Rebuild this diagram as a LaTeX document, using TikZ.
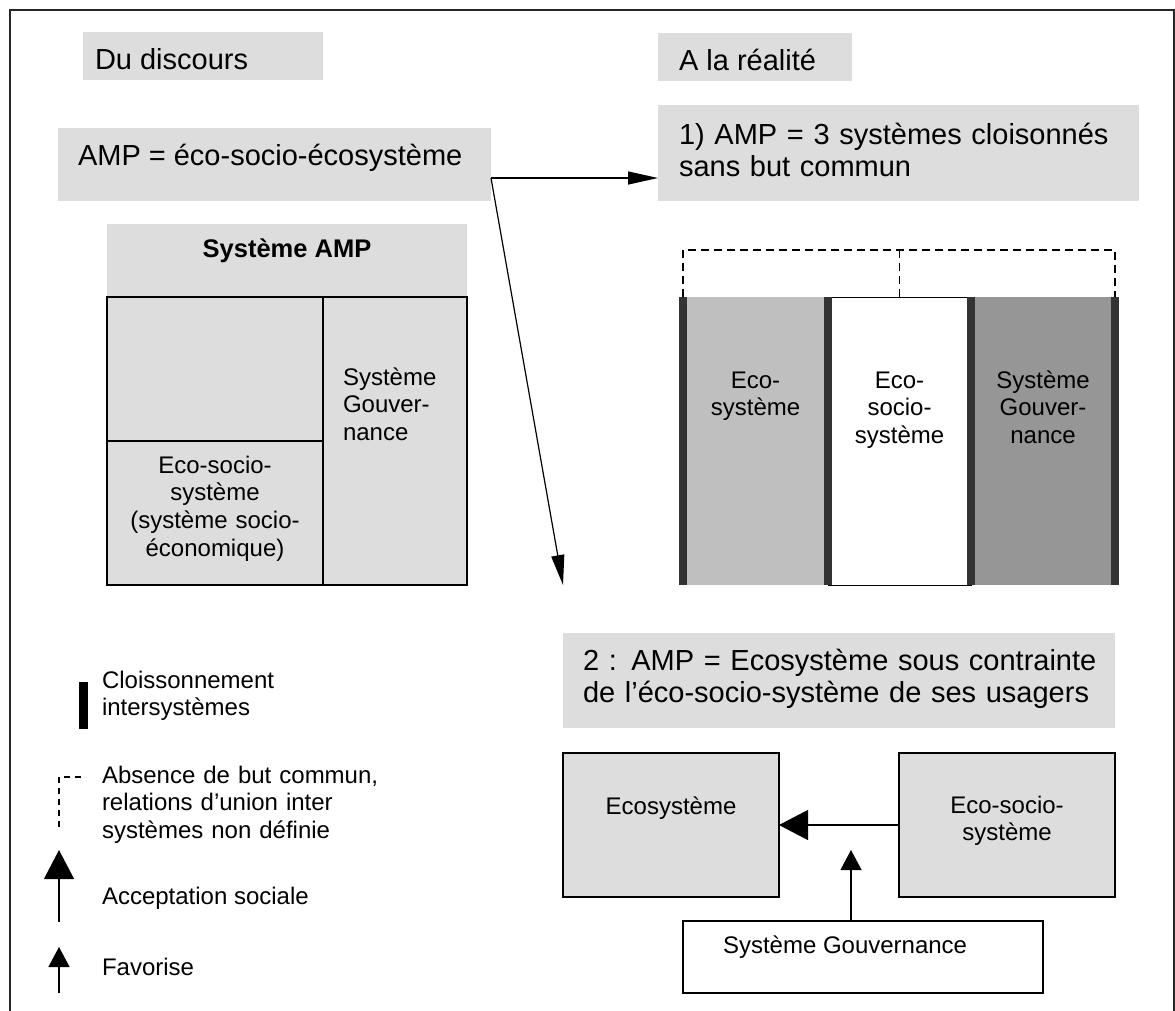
\documentclass[tikz,border=0pt]{standalone}
\usepackage{fontspec}
\setmainfont{Liberation Sans}
\usetikzlibrary{arrows.meta}

\definecolor{boxgrey}{HTML}{DDDDDD}
\definecolor{lightcol}{HTML}{BFBFBF}
\definecolor{darkcol}{HTML}{969696}
\definecolor{barcol}{HTML}{333333}

\newcommand{\bigtext}{\fontsize{29}{32}\selectfont}
\newcommand{\smalltext}{\fontsize{24}{27.7}\selectfont}

\begin{document}
\begin{tikzpicture}[x=1pt,y=-1pt,
  box/.style={anchor=north west, inner sep=0pt, outer sep=0pt},
  greybox/.style={box, fill=boxgrey, draw=none},
  framedbox/.style={box, fill=boxgrey, draw=black, line width=1.5pt},
  whitebox/.style={box, fill=white, draw=black, line width=1.5pt},
  label/.style={inner sep=0pt, outer sep=0pt, anchor=base west, align=left},
  clabel/.style={inner sep=0pt, outer sep=0pt, anchor=base, align=center},
  conn/.style={draw=black, line width=1.2pt},
  bigtip/.style={-{Triangle[length=29pt,width=30pt]}},
  smalltip/.style={-{Triangle[length=20pt,width=21pt]}},
  thintip/.style={-{Triangle[length=30pt,width=13pt]}},
  partition/.style={draw=barcol, line width=8pt},
  openlink/.style={draw=black, line width=1.2pt, dash pattern=on 8pt off 5pt}
]
\useasboundingbox (0,0) rectangle (1175,1010);

% outer frame
\draw[line width=1.5pt, draw=black!85] (10,1012) -- (10,10) -- (1174,10) -- (1174,1012);

% ---------- left half: the discourse ----------
\node[greybox, minimum width=240pt, minimum height=48pt] (discours) at (83,32) {};
\node[label, font=\bigtext] at (95,69) {Du discours};

\node[greybox, minimum width=433pt, minimum height=73pt] (amp) at (58,128) {};
\node[label, font=\bigtext] at (78,165) {AMP = éco-socio-écosystème};

\node[greybox, minimum width=360pt, minimum height=73pt] (ampsys) at (107,224) {};
\node[clabel, font=\fontsize{25.5}{28}\selectfont\bfseries] at (ampsys.center |- 0,257) {Système AMP};

\node[framedbox, minimum width=216pt, minimum height=144pt] (ecotop) at (107,297) {};
\node[framedbox, minimum width=216pt, minimum height=144pt] (ecosoc) at (107,441) {};
\node[framedbox, minimum width=144pt, minimum height=288pt] (govleft) at (323,297) {};
\node[clabel, font=\smalltext, text width=216pt] at (ecosoc.center |- 0,473)
  {Eco-socio-\\système\\(système socio-\\économique)};
\node[label, font=\smalltext, text width=120pt] at (343,385) {Système\\Gouver-\\nance};

% ---------- right half: the reality ----------
\node[greybox, minimum width=194pt, minimum height=48pt] (realite) at (658,33) {};
\node[label, font=\bigtext] at (679,70) {A la réalité};

\node[greybox, minimum width=481pt, minimum height=96pt] (cas1) at (658,105) {};
\node[label, font=\bigtext, text width=470pt] at (679,144)
  {1) AMP = 3 systèmes cloisonnés\\sans but commun};

% three partitioned systems
\node[box, fill=lightcol, minimum width=145pt, minimum height=288pt] (colA) at (683,297) {};
\node[box, fill=white, draw=black, line width=1pt, minimum width=143pt, minimum height=288pt] (colB) at (828,297) {};
\node[box, fill=darkcol, minimum width=144pt, minimum height=288pt] (colC) at (971,297) {};
\draw[partition] (colA.north west) -- (colA.south west);
\draw[partition] (colB.north west) -- (colB.south west);
\draw[partition] (colC.north west) -- (colC.south west);
\draw[partition] (colC.north east) -- (colC.south east);
\draw[openlink] (colA.north west) -- ++(0,-47) -| (colC.north east);
\draw[openlink] (colB.north) -- ++(0,-47);
\node[clabel, font=\smalltext, text width=140pt] at (colA.center |- 0,388) {Eco-\\système};
\node[clabel, font=\smalltext, text width=140pt] at (colB.center |- 0,388) {Eco-\\socio-\\système};
\node[clabel, font=\smalltext, text width=140pt] at (colC.center |- 0,388) {Système\\Gouver-\\nance};

% second reading
\node[greybox, minimum width=552pt, minimum height=95pt] (cas2) at (563,633) {};
\node[label, font=\bigtext, text width=540pt] at (583,670)
  {2 : AMP = Ecosystème sous contrainte\\de l’éco-socio-système de ses usagers};

\node[framedbox, minimum width=216pt, minimum height=144pt] (eco) at (563,753) {};
\node[clabel, font=\smalltext] at (eco.center |- 0,814) {Ecosystème};
\node[framedbox, minimum width=216pt, minimum height=144pt] (ecosoc2) at (899,753) {};
\node[clabel, font=\smalltext, text width=200pt] at (ecosoc2.center |- 0,813) {Eco-socio-\\système};
\node[whitebox, minimum width=360pt, minimum height=72pt] (gouv) at (683,921) {};
\node[label, font=\smalltext] at (723,953) {Système Gouvernance};

\draw[conn, bigtip] (ecosoc2.west) -- (eco.east);
\coordinate (favtip) at (851,850);
\draw[conn, smalltip] (gouv.north -| favtip) -- (favtip);

% arrows from the discourse to the two readings
\coordinate (ampout) at (amp.east |- 0,178);
\coordinate (downtip) at (563,585);
\draw[conn, thintip] (ampout) -- (ampout -| cas1.west);
\draw[conn, thintip] (ampout) -- (downtip);

% ---------- legend ----------
\coordinate (bar1) at (83.5,682);
\coordinate (bar2) at (83.5,729);
\draw[draw=black, line width=9pt] (bar1) -- (bar2);
\node[label, font=\smalltext, text width=300pt] at (102,688) {Cloissonnement\\intersystèmes};

\coordinate (dash1) at (59,827);
\coordinate (dash2) at (59,777);
\coordinate (dash3) at (81,777);
\draw[draw=black, line width=1.2pt, dash pattern=on 6pt off 5pt] (dash1) -- (dash2) -- (dash3);
\node[label, font=\smalltext, text width=320pt] at (102,783)
  {Absence de but commun,\\relations d’union inter\\systèmes non définie};

\coordinate (acc1) at (59,922);
\coordinate (acc2) at (59,850);
\draw[conn, bigtip] (acc1) -- (acc2);
\node[label, font=\smalltext] at (102,904) {Acceptation sociale};

\coordinate (fav1) at (59,993);
\coordinate (fav2) at (59,947);
\draw[conn, smalltip] (fav1) -- (fav2);
\node[label, font=\smalltext] at (102,975) {Favorise};
\end{tikzpicture}
\end{document}
